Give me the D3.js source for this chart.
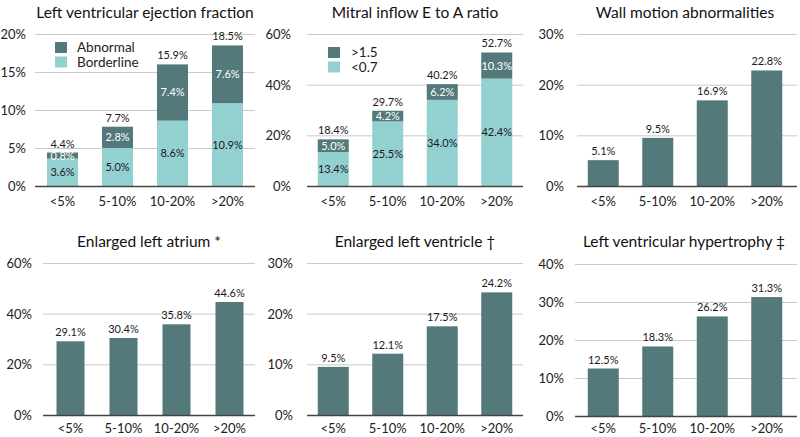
<!DOCTYPE html>
<html><head><meta charset="utf-8">
<script src="https://cdn.jsdelivr.net/npm/d3@7"></script>
<style>body{margin:0;background:#fff}svg{display:block}text{font-family:Lato,"Open Sans",sans-serif}</style>
</head><body><svg id="c" width="800" height="437"></svg>
<script>
const categories = ["<5%", "5-10%", "10-20%", ">20%"];
// Panel 1: Left ventricular ejection fraction
const lvefBorderline = [3.6, 5.0, 8.6, 10.9];
const lvefAbnormal = [0.8, 2.8, 7.4, 7.6];
const lvefTotal = [4.4, 7.7, 15.9, 18.5];
const lvefTicks = [0, 5, 10, 15, 20];
// Panel 2: Mitral inflow E to A ratio
const mitralLow = [13.4, 25.5, 34.0, 42.4];
const mitralHigh = [5.0, 4.2, 6.2, 10.3];
const mitralTotal = [18.4, 29.7, 40.2, 52.7];
const mitralTicks = [0, 20, 40, 60];
// Panel 3-6
const wallMotion = [5.1, 9.5, 16.9, 22.8];
const wallTicks = [0, 10, 20, 30];
const atrium = [29.1, 30.4, 35.8, 44.6];
const atriumTicks = [0, 20, 40, 60];
const ventricle = [9.5, 12.1, 17.5, 24.2];
const ventricleTicks = [0, 10, 20, 30];
const hypertrophy = [12.5, 18.3, 26.2, 31.3];
const hypertrophyTicks = [0, 10, 20, 30, 40];

const DARK = "#54797a", LIGHT = "#93d1d1";
const svg = d3.select("#c");

const panels = [
  {title:"Left ventricular ejection fraction", tx:145, ty:18, gx:[35,255], bx:[35,255], bw:31, y:[34,186], ticks:lvefTicks, lx:26, xp:15,
   stack:{low:lvefBorderline, high:lvefAbnormal, total:lvefTotal, names:["Abnormal","Borderline"], leg:[55,42,77]}},
  {title:"Mitral inflow E to A ratio", tx:415, ty:18, gx:[307,523], bx:[306,524], bw:31, y:[34,186], ticks:mitralTicks, lx:291, xp:15,
   stack:{low:mitralLow, high:mitralHigh, total:mitralTotal, names:[">1.5","<0.7"], leg:[328,47,351]}},
  {title:"Wall motion abnormalities", tx:685, ty:18, gx:[577,797], bx:[576,794], bw:31, y:[34,186], ticks:wallTicks, lx:564, xp:15, values:wallMotion},
  {title:"Enlarged left atrium *", tx:149, ty:247, gx:[43,255], bx:[44,256], bw:28, y:[263,415], ticks:atriumTicks, lx:32, xp:13, values:atrium},
  {title:"Enlarged left ventricle \u2020", tx:415, ty:247, gx:[307,523], bx:[306,524], bw:31, y:[263,415], ticks:ventricleTicks, lx:293, xp:13, values:ventricle},
  {title:"Left ventricular hypertrophy \u2021", tx:684, ty:247, gx:[575,797], bx:[576,794], bw:31, y:[264,416], ticks:hypertrophyTicks, lx:564, xp:12, values:hypertrophy}
];

panels.forEach(p => {
  const g = svg.append("g");
  const maxV = p.ticks[p.ticks.length-1];
  const y = d3.scaleLinear().domain([0, maxV]).range([p.y[1], p.y[0]]);
  const bandW = (p.bx[1]-p.bx[0])/4;
  const x = d3.scaleBand().domain(categories).range(p.bx).paddingInner(1-p.bw/bandW).paddingOuter((1-p.bw/bandW)/2);

  g.append("text").attr("x", p.tx).attr("y", p.ty).attr("text-anchor","middle")
    .attr("font-size", 15.5).attr("fill","#111").text(p.title);

  // gridlines
  g.selectAll(".grid").data(p.ticks.filter(t=>t>0)).join("line")
    .attr("x1", p.gx[0]).attr("x2", p.gx[1]).attr("y1", d=>y(d)+0.5).attr("y2", d=>y(d)+0.5)
    .attr("stroke","#c9c9c9").attr("stroke-width",1);

  // y axis labels
  const yAxis = d3.axisLeft(y).tickValues(p.ticks).tickFormat(d=>d+"%").tickSize(0).tickPadding(0);
  const ya = g.append("g").attr("transform",`translate(${p.lx},0)`).call(yAxis);
  ya.select(".domain").remove();
  ya.selectAll("text").attr("font-size",13).attr("fill","#222").attr("font-family","Lato,'Open Sans',sans-serif").attr("dy","0.35em");

  if (p.stack) {
    const s = p.stack;
    const rows = categories.map((c,i)=>({cat:c, low:s.low[i], high:s.high[i], total:s.total[i]}));
    const series = d3.stack().keys(["low","high"])(rows);
    series.forEach((ser, si) => {
      g.selectAll(".seg"+si).data(ser).join("rect")
        .attr("x", d=>x(d.data.cat)).attr("width", x.bandwidth())
        .attr("y", d=>y(d[1])).attr("height", d=>y(d[0])-y(d[1]))
        .attr("fill", si===0?LIGHT:DARK);
      g.selectAll(".segl"+si).data(ser).join("text")
        .attr("x", d=>x(d.data.cat)+x.bandwidth()/2).attr("y", d=>(y(d[0])+y(d[1]))/2)
        .attr("dy","0.36em").attr("text-anchor","middle").attr("font-size",11)
        .attr("fill", si===0?"#1a1a1a":"#ffffff")
        .text(d=>d.data[si===0?"low":"high"].toFixed(1)+"%");
    });
    g.selectAll(".tot").data(rows).join("text")
      .attr("x", d=>x(d.cat)+x.bandwidth()/2).attr("y", d=>y(d.low+d.high)-5)
      .attr("text-anchor","middle").attr("font-size",11).attr("fill","#1a1a1a")
      .text(d=>d.total.toFixed(1)+"%");
    // legend
    const [lxp, lyp, ltx] = s.leg;
    [DARK, LIGHT].forEach((col,i)=>{
      g.append("rect").attr("x", lxp).attr("y", lyp+i*14.5).attr("width",12).attr("height",11).attr("fill",col);
      g.append("text").attr("x", ltx).attr("y", lyp+i*14.5+10).attr("font-size",13.5).attr("fill","#222").text(s.names[i]);
    });
  } else {
    const rows = categories.map((c,i)=>({cat:c, v:p.values[i]}));
    g.selectAll(".bar").data(rows).join("rect")
      .attr("x", d=>x(d.cat)).attr("width", x.bandwidth())
      .attr("y", d=>y(d.v)).attr("height", d=>y(0)-y(d.v)).attr("fill", DARK);
    g.selectAll(".vl").data(rows).join("text")
      .attr("x", d=>x(d.cat)+x.bandwidth()/2).attr("y", d=>y(d.v)-5)
      .attr("text-anchor","middle").attr("font-size",11).attr("fill","#1a1a1a")
      .text(d=>d.v.toFixed(1)+"%");
  }

  // baseline
  g.append("line").attr("x1", p.gx[0]).attr("x2", p.gx[1]).attr("y1", y(0)+0.5).attr("y2", y(0)+0.5)
    .attr("stroke","#444").attr("stroke-width",1.5);

  // x axis labels
  const xa = g.append("g").attr("transform",`translate(0,${y(0)})`).call(d3.axisBottom(x).tickSize(0).tickPadding(p.xp));
  xa.select(".domain").remove();
  xa.selectAll("text").attr("font-size",13).attr("fill","#222").attr("font-family","Lato,'Open Sans',sans-serif").attr("dy","0.35em");
});
</script></body></html>
